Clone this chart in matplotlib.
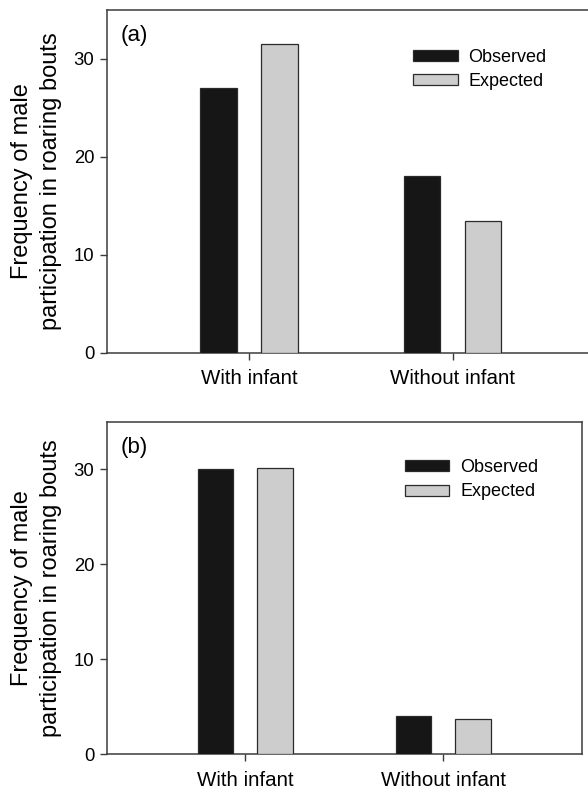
import matplotlib
matplotlib.use("Agg")
import matplotlib.pyplot as plt
import numpy as np

categories = ["With infant", "Without infant"]
series_names = ["Observed", "Expected"]
observed_a = [27.0, 18.0]
expected_a = [31.5, 13.5]
observed_b = [30.0, 4.0]
expected_b = [30.2, 3.7]
panel_labels = ["(a)", "(b)"]
yticks = [0, 10, 20, 30]
ylabel = "Frequency of male\nparticipation in roaring bouts"

plt.rcParams['font.family'] = ['Liberation Sans', 'DejaVu Sans']

fig = plt.figure(figsize=(5.88, 7.90), dpi=100)
W, H = 588.0, 790.0

def px_axes(l, t, r, b):
    return fig.add_axes([l / W, 1 - b / H, (r - l) / W, (b - t) / H])

ax_a = px_axes(106.7, 10, 595, 352.7)
ax_b = px_axes(106.7, 422, 582, 754.3)

colors = ["#161616", "#cdcdcd"]
edge = "#2a2a2a"
spine_col = "#3c3c3c"
x = np.arange(len(categories))
w = 0.18
off = 0.15

for ax, obs, exp, lab in [(ax_a, observed_a, expected_a, panel_labels[0]),
                          (ax_b, observed_b, expected_b, panel_labels[1])]:
    ax.bar(x - off, obs, width=w, color=colors[0], edgecolor=edge, linewidth=0.9,
           label=series_names[0], zorder=3)
    ax.bar(x + off, exp, width=w, color=colors[1], edgecolor=edge, linewidth=0.9,
           label=series_names[1], zorder=3)
    ax.set_xlim(-0.7, 1.7)
    ax.set_ylim(0, 35)
    ax.set_yticks(yticks)
    ax.set_xticks(x)
    ax.set_xticklabels(categories, fontsize=14.8)
    ax.tick_params(axis='y', labelsize=13.3, length=5, width=1.0, color=spine_col,
                   direction='out', pad=4)
    ax.tick_params(axis='x', length=5, width=1.0, color=spine_col,
                   direction='out', pad=7)
    for s in ax.spines.values():
        s.set_color(spine_col)
        s.set_linewidth(1.1)
    ax.set_ylabel(ylabel, fontsize=17, labelpad=8, linespacing=1.45)
    ax.annotate(lab, xy=(0, 1), xycoords='axes fraction', xytext=(10.3, -11),
                textcoords='offset points', ha='left', va='top', fontsize=16)
    leg = ax.legend(loc='center left', bbox_to_anchor=(0.628, 0.826), frameon=False,
                    fontsize=13, handlelength=2.45, handleheight=0.56,
                    handletextpad=0.6, labelspacing=0.4, borderpad=0,
                    borderaxespad=0)
    for h in leg.legend_handles:
        h.set_edgecolor(edge)
        h.set_linewidth(0.9)

fig.savefig("out.png", dpi=100)
